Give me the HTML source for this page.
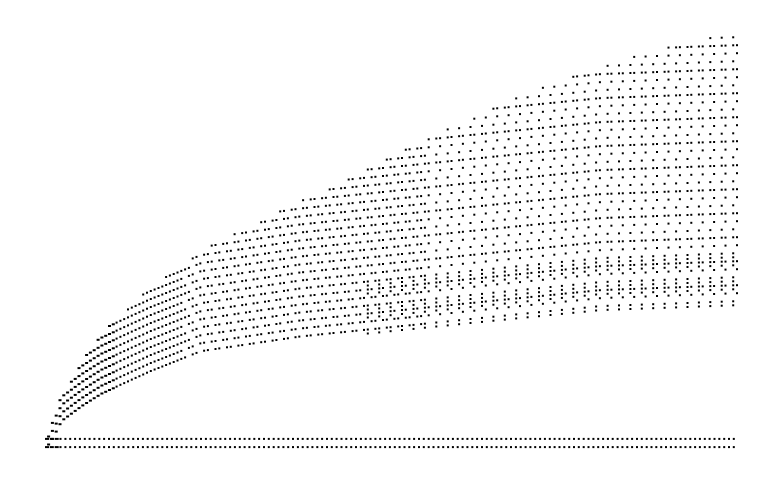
<!DOCTYPE html>
<html><head><meta charset="utf-8"><style>
html,body{margin:0;padding:0;background:#fff;width:779px;height:482px;overflow:hidden}
</style></head><body>
<svg id="chart" width="779" height="482" viewBox="0 0 779 482" xmlns="http://www.w3.org/2000/svg">
<g id="marks"></g>
</svg>
<script>
// Envelope data (x in data units 0..100, y in data units)
const envX = [0, 0.7, 2.2, 5.1, 7.9, 15.2, 22.4, 36.8, 51.3, 65.8, 80.2, 100];
const envTop = [-1, 5.4, 11.5, 20, 27, 38, 47, 59, 71, 83, 92, 101];
const envBottom = [-1, 0.5, 5.4, 9, 12, 17.6, 22.4, 26, 28.5, 31, 33.4, 34.6];
const baseRows = [1, -1];

const sx = v => 45 + v * 6.92;
const sy = v => 442 - v * 4.1;
function interp(arr, x){
  for(let i=1;i<envX.length;i++){
    if(x<=envX[i]){const t=(x-envX[i-1])/(envX[i]-envX[i-1]);return arr[i-1]+t*(arr[i]-arr[i-1]);}
  }
  return arr[arr.length-1];
}
const g = document.getElementById('marks');
const NS = 'http://www.w3.org/2000/svg';
function dot(x,y,w){
  const r=document.createElementNS(NS,'rect');
  r.setAttribute('x',x.toFixed(1));r.setAttribute('y',y.toFixed(1));
  r.setAttribute('width',w);r.setAttribute('height',2);r.setAttribute('fill','#000');
  
  
  g.appendChild(r);
}
baseRows.forEach(b=>{
  for(let xv=0; xv<=100; xv+=0.7){
    dot(sx(xv), sy(b), xv<2 ? 4 : 2);
  }
});
let ci=0;
for(let xv=0.3; xv<=100; xv+=0.55, ci++){
  const top=interp(envTop,xv), bot=interp(envBottom,xv);
  const yTop=sy(top), yBot=sy(bot);
  let ri=0;
  for(let y=yBot; y>=yTop; y-=8, ri++){
    if(xv>20 && ((ci+ri)%3===1)) continue;
    if(xv>55 && (ci%3===2)) continue;
    dot(sx(xv), y, xv<10 ? 3 : 2);
    if(y>yBot-60 && xv>45 && ci%3===0){ dot(sx(xv), y+4, 2); }
  }
}
</script>
</body></html>
